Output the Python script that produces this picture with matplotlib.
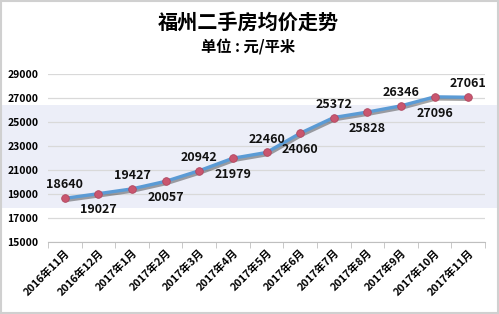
import numpy as np
import matplotlib.pyplot as plt
from matplotlib.patches import Rectangle
import matplotlib.patheffects as pe

plt.rcParams['font.family'] = ['Noto Sans CJK SC', 'DejaVu Sans']

months = ['2016年11月', '2016年12月', '2017年1月', '2017年2月', '2017年3月',
          '2017年4月', '2017年5月', '2017年6月', '2017年7月', '2017年8月',
          '2017年9月', '2017年10月', '2017年11月']
prices = [18640, 19027, 19427, 20057, 20942, 21979, 22460, 24060,
          25372, 25828, 26346, 27096, 27061]
yticks = [15000, 17000, 19000, 21000, 23000, 25000, 27000, 29000]

fig = plt.figure(figsize=(4.99, 3.14), dpi=100)
ax = fig.add_axes([48/499, 1-242/314, 437/499, 168/314])
ax.patch.set_visible(False)

x = np.arange(len(months))
ax.plot(x, prices, color='#5b9bd5', lw=2.4, zorder=3,
        path_effects=[pe.SimpleLineShadow(offset=(1, -1.5), alpha=0.35), pe.Normal()])
ax.plot(x, prices, 'o', ms=5.5, color='#c9566f', mec='#b04860', mew=0.6, zorder=4)

# data labels alternate above / below
for i, v in enumerate(prices):
    dy = 5 if i % 2 == 0 else -7
    ax.annotate(str(v), (i, v), xytext=(0, dy), textcoords='offset points',
                ha='center', va='bottom' if dy > 0 else 'top',
                fontsize=9, fontweight='bold', color='#111111', zorder=5)

ax.set_ylim(15000, 29000)
ax.set_xlim(-0.5, len(months) - 0.5)
ax.set_yticks(yticks)
ax.set_yticklabels([str(t) for t in yticks], fontsize=7.5, fontweight='bold')
ax.yaxis.grid(True, color='#d9d9d9', lw=0.9)
ax.set_axisbelow(True)
ax.tick_params(axis='y', length=0, pad=7)

ax.set_xticks(x)
ax.set_xticklabels(months, rotation=45, ha='right', rotation_mode='anchor',
                   fontsize=7.8, fontweight='bold')
ax.tick_params(axis='x', which='major', length=0, pad=4)
ax.set_xticks(np.arange(-0.5, len(months)), minor=True)
ax.tick_params(axis='x', which='minor', length=4, color='#bfbfbf')

for s in ['top', 'right', 'left']:
    ax.spines[s].set_visible(False)
ax.spines['bottom'].set_color('#bfbfbf')

fig.text(0.497, 1-22/314, '福州二手房均价走势', ha='center', va='center',
         fontsize=14.5, fontweight='bold')
fig.text(0.497, 1-47/314, '单位 : 元/平米', ha='center', va='center',
         fontsize=11, fontweight='bold')

# light band across the middle, behind the plot
fig.patches.append(Rectangle((0, 1-208/314), 1, 103/314, transform=fig.transFigure,
                             facecolor='#eceef8', edgecolor='none', zorder=-1))
# outer frame
fig.patches.append(Rectangle((0.002, 0.003), 0.996, 0.994, transform=fig.transFigure,
                             facecolor='none', edgecolor='#d0d0d0', lw=1.5, zorder=11))

fig.savefig('out.png', dpi=100)
